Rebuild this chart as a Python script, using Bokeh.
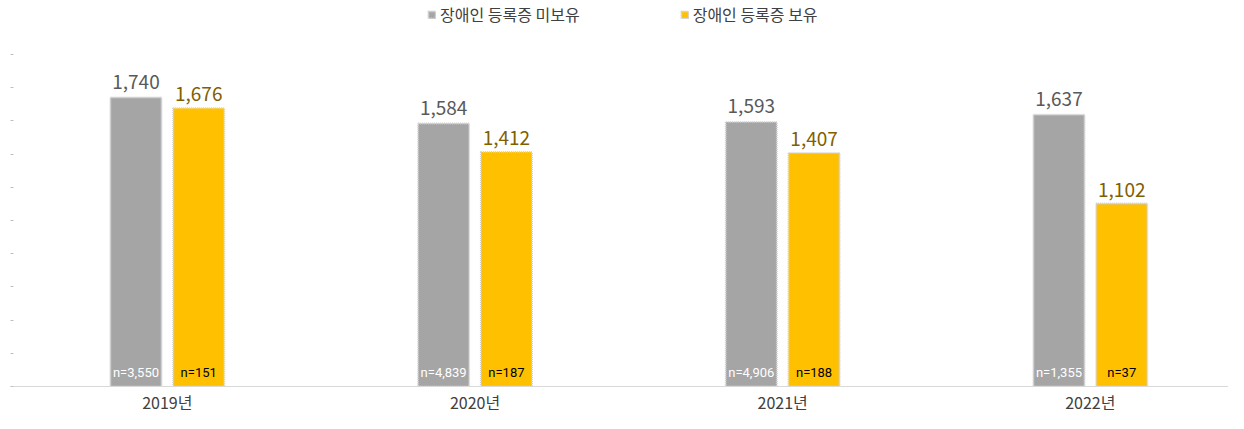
from bokeh.plotting import figure
from bokeh.models import ColumnDataSource, Range1d, FixedTicker, Legend, LegendItem
from bokeh.core.properties import value
from bokeh.embed import file_html
from bokeh.resources import INLINE

categories = ["2019년", "2020년", "2021년", "2022년"]
series_names = ["장애인 등록증 미보유", "장애인 등록증 보유"]
no_card = [1740, 1584, 1593, 1637]
card = [1676, 1412, 1407, 1102]
n_no_card = ["n=3,550", "n=4,839", "n=4,906", "n=1,355"]
n_card = ["n=151", "n=187", "n=188", "n=37"]
y_ticks = list(range(0, 2001, 200))

FONT = "Noto Sans CJK KR"
GRAY = "#a5a5a5"
GOLD = "#ffc000"

off = 0.102
w = 0.166
pos = [i + 0.5 for i in range(len(categories))]

src = ColumnDataSource(dict(
    x1=[x - off for x in pos],
    x2=[x + off for x in pos],
    no_card=no_card,
    card=card,
    no_lbl=[f"{v:,}" for v in no_card],
    card_lbl=[f"{v:,}" for v in card],
    n_no=n_no_card,
    n_card=n_card,
    zero=[0] * len(categories),
))

p = figure(frame_width=1215, frame_height=386, output_backend="svg", toolbar_location=None,
           x_range=Range1d(0, 3.949), y_range=Range1d(0, 2325))
p.min_border_left = 13
p.min_border_right = 0
p.min_border_top = 0
p.min_border_bottom = 0
p.outline_line_color = None
p.xgrid.grid_line_color = None
p.ygrid.grid_line_color = None
p.background_fill_color = "white"

r1 = p.vbar(x="x1", top="no_card", width=w, source=src,
            fill_color=GRAY, line_color="#d0d0d0", line_width=2, line_dash="1 1")
r2 = p.vbar(x="x2", top="card", width=w, source=src,
            fill_color=GOLD, line_color="#d0d0d0", line_width=2, line_dash="1 1")

p.text(x="x1", y="no_card", text="no_lbl", source=src,
       text_align="center", text_baseline="bottom", y_offset=-9,
       text_font=value(FONT), text_font_size="19px", text_color="#595959")
p.text(x="x2", y="card", text="card_lbl", source=src,
       text_align="center", text_baseline="bottom", y_offset=-7,
       text_font=value(FONT), text_font_size="19px", text_color="#7f6000")
p.text(x="x1", y="zero", text="n_no", source=src,
       text_align="center", text_baseline="bottom", y_offset=-7,
       text_font=value("Roboto"), text_font_size="13px", text_color="white")
p.text(x="x2", y="zero", text="n_card", source=src,
       text_align="center", text_baseline="bottom", y_offset=-7,
       text_font=value("Roboto"), text_font_size="13px", text_color="black")

legend = Legend(items=[LegendItem(label=series_names[0], renderers=[r1]),
                       LegendItem(label=series_names[1], renderers=[r2])],
                location=(414, 360), orientation="horizontal",
                spacing=100, glyph_width=9, glyph_height=9,
                label_text_font=FONT, label_text_font_size="16px",
                label_text_color="#404040", border_line_color=None,
                background_fill_alpha=0, margin=0, padding=4, label_standoff=4)
p.add_layout(legend)

p.xaxis.ticker = FixedTicker(ticks=pos)
p.xaxis.major_label_overrides = {x: c for x, c in zip(pos, categories)}
p.xaxis.axis_line_color = "#d9d9d9"
p.xaxis.major_tick_line_color = None
p.xaxis.major_tick_out = 0
p.xaxis.major_tick_in = 0
p.xaxis.minor_tick_line_color = None
p.xaxis.major_label_text_font = FONT
p.xaxis.major_label_text_font_size = "16px"
p.xaxis.major_label_text_color = "#404040"
p.xaxis.major_label_standoff = 3

p.yaxis.ticker = FixedTicker(ticks=y_ticks)
p.yaxis.axis_line_color = None
p.yaxis.major_tick_line_color = "#bfbfbf"
p.yaxis.major_tick_out = 3
p.yaxis.major_tick_in = 0
p.yaxis.minor_tick_line_color = None
p.yaxis.major_label_text_font_size = "0px"
p.yaxis.major_label_overrides = {t: "" for t in y_ticks}
p.yaxis.major_label_standoff = 0

open("out.html", "w").write(file_html(p, INLINE))
